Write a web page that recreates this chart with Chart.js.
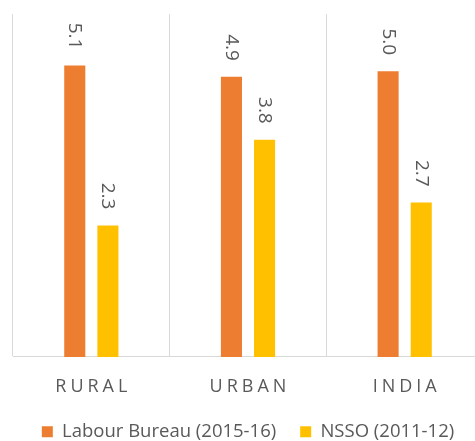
<!DOCTYPE html>
<html>
<head>
<meta charset="utf-8">
<script src="https://cdn.jsdelivr.net/npm/chart.js@4"></script>
<style>
  html, body { margin: 0; padding: 0; background: #fff; overflow: hidden; }
  #wrap { width: 494px; height: 451px; position: relative; }
</style>
</head>
<body>
<div id="wrap"><canvas id="chart"></canvas></div>
<script>
// ================= DATA =================
const categories = ["RURAL", "URBAN", "INDIA"];
const labourBureau = [5.1, 4.9, 5.0];
const nsso = [2.3, 3.8, 2.7];
const seriesNames = ["Labour Bureau (2015-16)", "NSSO (2011-12)"];
const yMax = 6;

const FONT = "'Open Sans', 'DejaVu Sans', sans-serif";
const GREY = "#595959";

// rotated value labels above each bar
const valueLabels = {
  id: "valueLabels",
  afterDatasetsDraw(chart) {
    const ctx = chart.ctx;
    ctx.save();
    ctx.font = "19px " + FONT;
    ctx.fillStyle = GREY;
    ctx.textAlign = "right";
    ctx.textBaseline = "middle";
    chart.data.datasets.forEach((ds, i) => {
      chart.getDatasetMeta(i).data.forEach((bar, j) => {
        ctx.save();
        ctx.translate(bar.x, bar.y - 16);
        ctx.rotate(Math.PI / 2);
        ctx.fillText(ds.data[j].toFixed(1), 0, 0);
        ctx.restore();
      });
    });
    ctx.restore();
  }
};

// category labels with letter spacing
const spacedTicks = {
  id: "spacedTicks",
  afterDraw(chart) {
    const ctx = chart.ctx;
    const x = chart.scales.x;
    ctx.save();
    ctx.font = "18px " + FONT;
    ctx.fillStyle = GREY;
    ctx.textAlign = "center";
    ctx.textBaseline = "middle";
    ctx.letterSpacing = "4px";
    categories.forEach((c, i) => {
      ctx.fillText(c, x.getPixelForTick(i) + 2, chart.chartArea.bottom + 30);
    });
    ctx.restore();
  }
};

new Chart(document.getElementById("chart"), {
  type: "bar",
  data: {
    labels: categories,
    datasets: [
      { label: seriesNames[0], data: labourBureau, backgroundColor: "#ED7D31" },
      { label: seriesNames[1], data: nsso, backgroundColor: "#FFC000" }
    ]
  },
  options: {
    responsive: true,
    maintainAspectRatio: false,
    animation: false,
    categoryPercentage: 0.423,
    barPercentage: 0.636,
    layout: { padding: { left: 13, right: 11, top: 14, bottom: 0 } },
    plugins: {
      tooltip: { enabled: false },
      legend: {
        position: "bottom",
        labels: {
          boxWidth: 11,
          boxHeight: 11,
          padding: 24,
          color: GREY,
          font: { family: FONT, size: 18.5 }
        }
      }
    },
    scales: {
      x: {
        grid: { display: true, offset: true, color: "#d9d9d9", drawTicks: false },
        border: { display: true, color: "#d9d9d9" },
        ticks: { color: "rgba(0,0,0,0)", padding: 10, font: { family: FONT, size: 18 } }
      },
      y: { display: false, min: 0, max: yMax }
    }
  },
  plugins: [valueLabels, spacedTicks]
});
</script>
</body>
</html>
